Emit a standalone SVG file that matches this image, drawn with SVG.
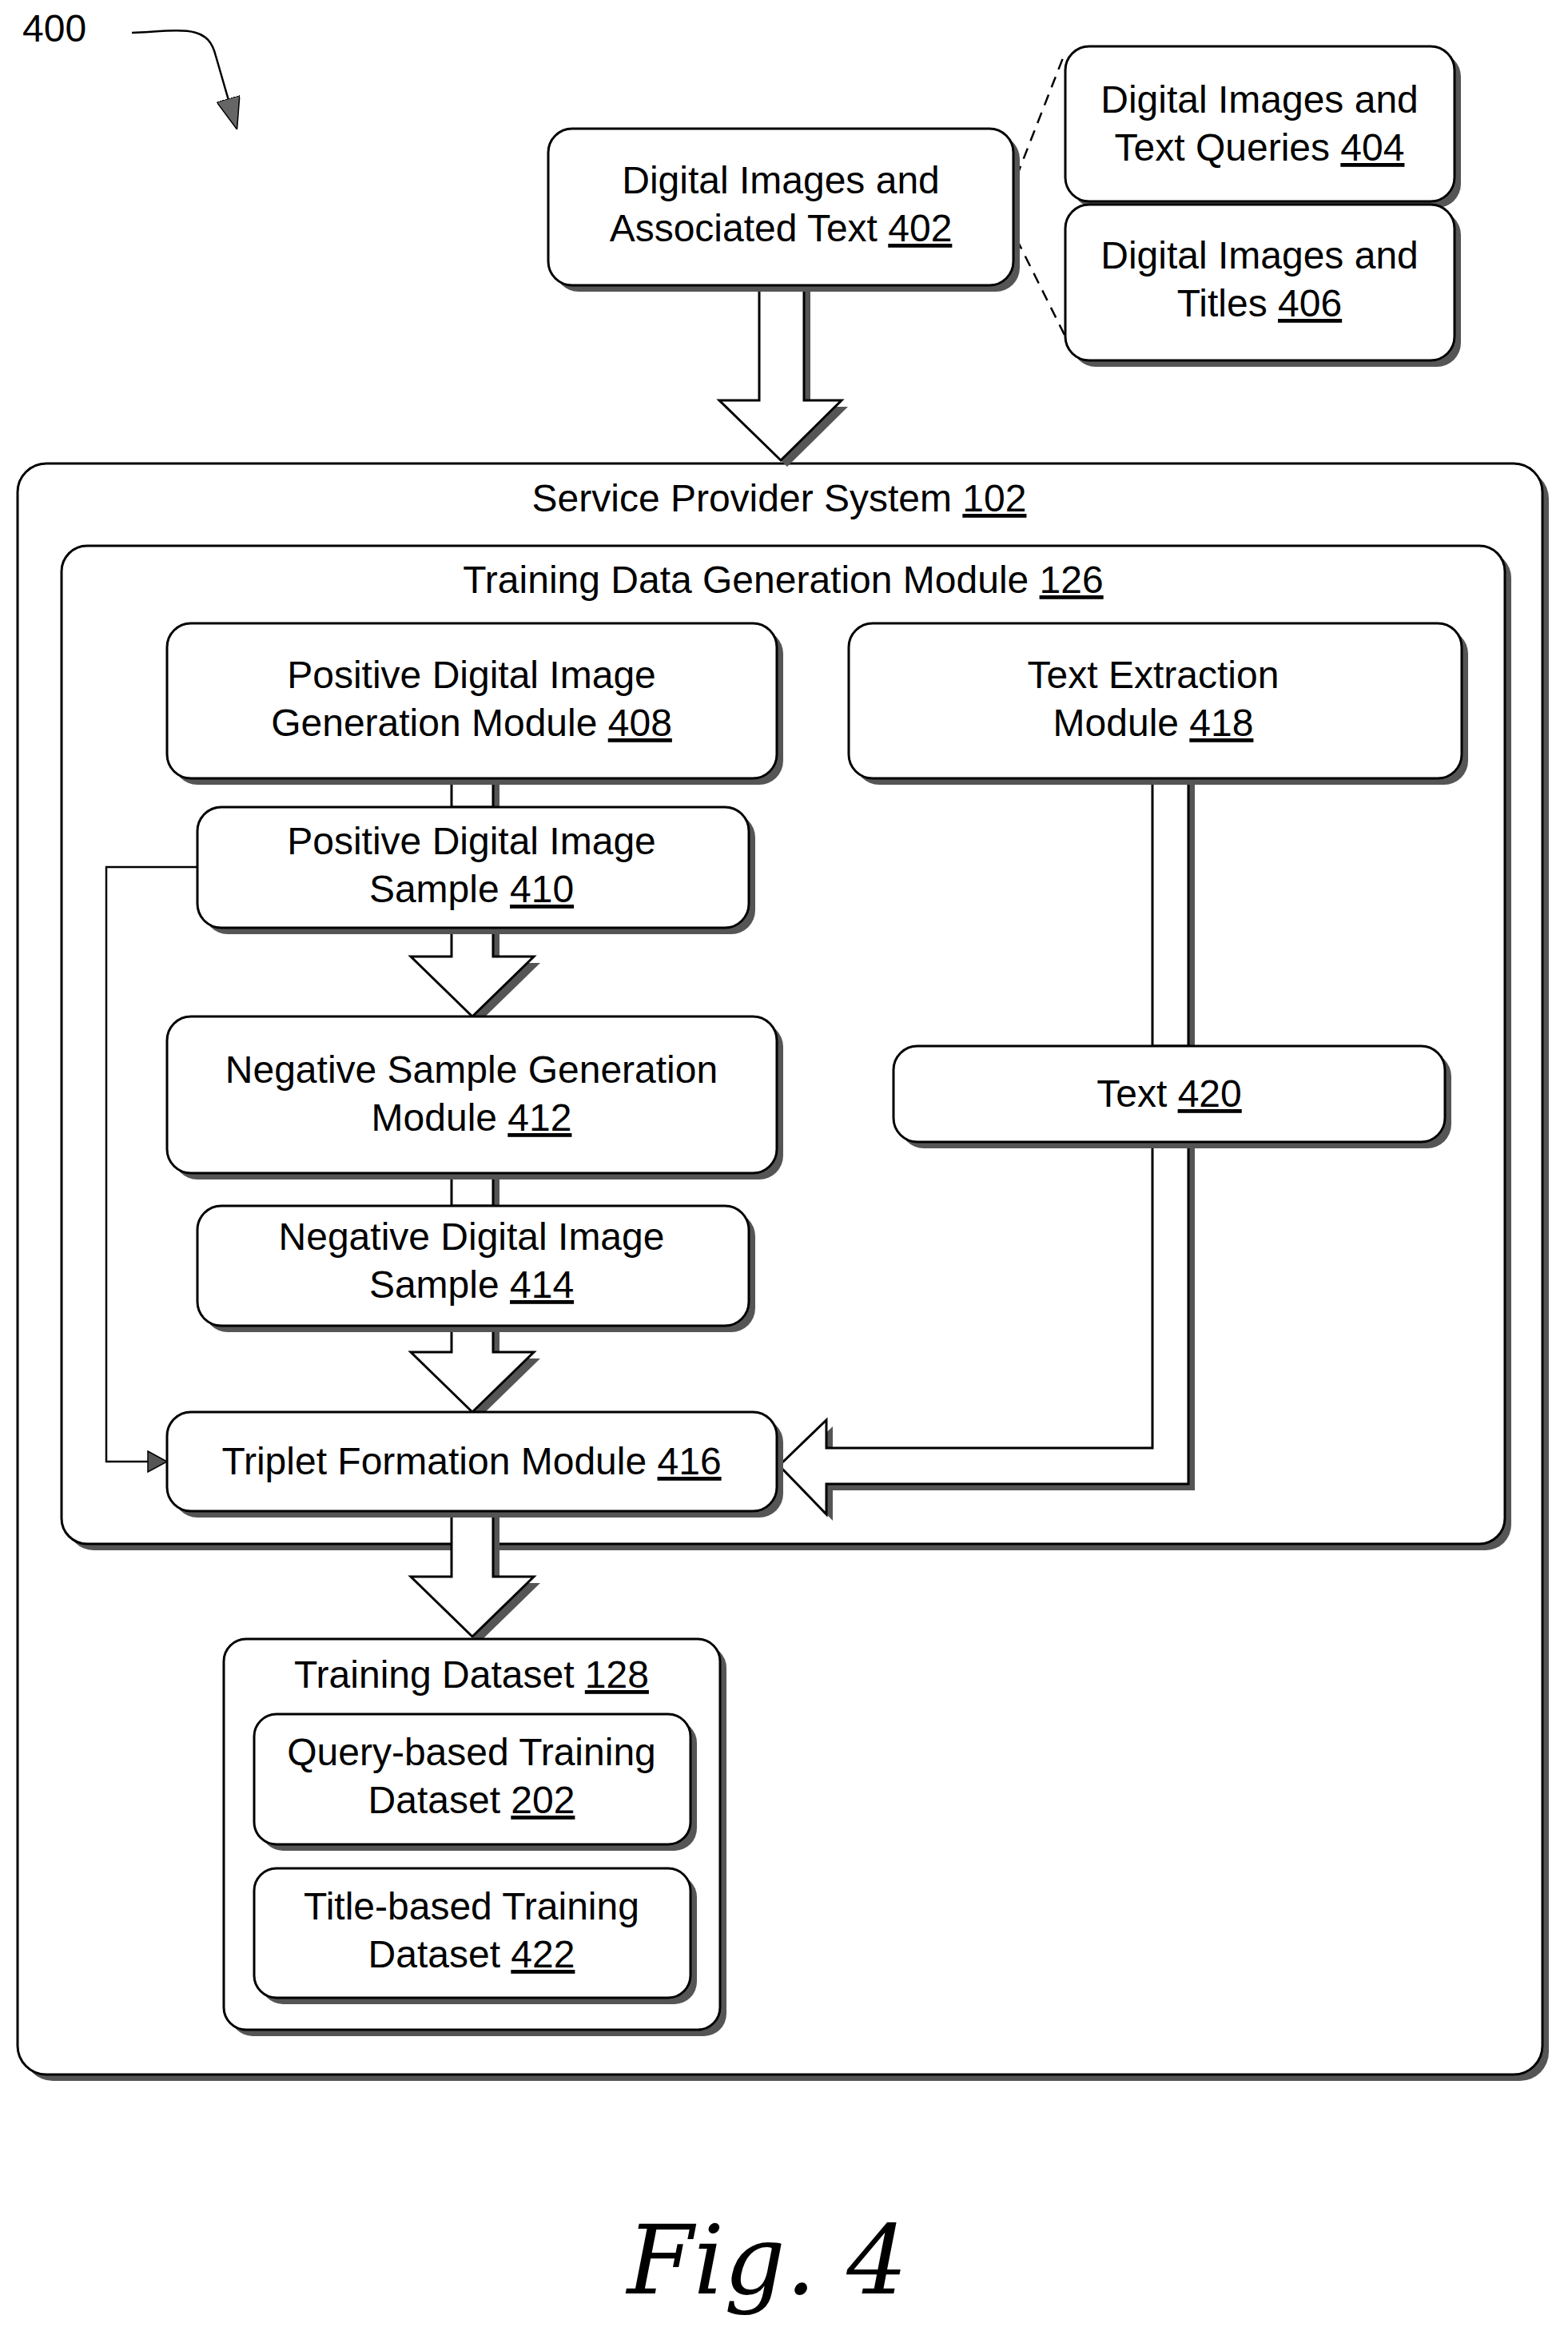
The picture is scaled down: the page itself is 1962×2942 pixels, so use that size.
<svg xmlns="http://www.w3.org/2000/svg" width="1962" height="2942" viewBox="0 0 1962 2942">
<style>
.b{fill:#fff;stroke:#000;stroke-width:3}
.s{fill:#555;stroke:none}
.t{font-family:"Liberation Sans",Arial,sans-serif;font-size:48px;text-anchor:middle;fill:#000}
.u{text-decoration:underline}
.l{fill:none;stroke:#000;stroke-width:2.5}
</style>
<defs>
<marker id="ah2" markerWidth="40" markerHeight="30" refX="38" refY="15" orient="auto" markerUnits="userSpaceOnUse"><path d="M0,0 L40,15 L0,30 Z" fill="#666" stroke="#000" stroke-width="1.5"/></marker>
</defs>
<rect width="1962" height="2942" fill="#fff"/>
<text x="28" y="52" class="t" style="text-anchor:start">400</text>
<path d="M165,41 C230,38 260,30 270,70 L296,160" class="l" marker-end="url(#ah2)"/>
<g id="sys">
<rect x="30" y="588" width="1908" height="2016" rx="36" class="s"/>
<rect x="22" y="580" width="1908" height="2016" rx="36" class="b"/>
<text x="975" y="640" class="t">Service Provider System <tspan class="u">102</tspan></text>
</g>
<g id="tdg">
<rect x="85" y="691" width="1806" height="1249" rx="32" class="s"/>
<rect x="77" y="683" width="1806" height="1249" rx="32" class="b"/>
<text x="980" y="742" class="t">Training Data Generation Module <tspan class="u">126</tspan></text>
</g>
<g id="connectors">
<path d="M1272,221 L1333,65 M1272,299 L1333,421" class="l" stroke-dasharray="14,10"/>
<polygon points="958,365 1014,365 1014,509 1061,509 985,584 908,509 958,509" class="s"/>
<polygon points="950,357 1006,357 1006,501 1053,501 977,576 900,501 950,501" class="b"/>
<rect x="573" y="982" width="52" height="36" class="s"/>
<rect x="565" y="974" width="52" height="36" class="b"/>
<polygon points="573,1169 625,1169 625,1205 676,1205 599,1280 522,1205 573,1205" class="s"/>
<polygon points="565,1161 617,1161 617,1197 668,1197 591,1272 514,1197 565,1197" class="b"/>
<rect x="573" y="1476" width="52" height="41" class="s"/>
<rect x="565" y="1468" width="52" height="41" class="b"/>
<polygon points="573,1667 625,1667 625,1700 676,1700 599,1775 522,1700 573,1700" class="s"/>
<polygon points="565,1659 617,1659 617,1692 668,1692 591,1767 514,1692 565,1692" class="b"/>
<polygon points="573,1899 625,1899 625,1981 676,1981 599,2056 522,1981 573,1981" class="s"/>
<polygon points="565,1891 617,1891 617,1973 668,1973 591,2048 514,1973 565,1973" class="b"/>
<rect x="1450" y="982" width="45" height="335" class="s"/>
<rect x="1442" y="974" width="45" height="335" class="b"/>
<polygon points="1450,1437 1495,1437 1495,1865 1042,1865 1042,1903 983,1842 1042,1785 1042,1820 1450,1820" class="s"/>
<polygon points="1442,1429 1487,1429 1487,1857 1034,1857 1034,1895 975,1834 1034,1777 1034,1812 1442,1812" class="b"/>
<path d="M247,1085 L133,1085 L133,1829 L190,1829" class="l" stroke-width="2"/>
<path d="M185,1816 L209,1829 L185,1842 Z" fill="#555" stroke="#000" stroke-width="1.5"/>
</g>
<g id="n402"><rect x="694" y="169" width="582" height="196" rx="30" class="s"/><rect x="686" y="161" width="582" height="196" rx="30" class="b"/>
<text x="977" y="242" class="t">Digital Images and</text><text x="977" y="302" class="t">Associated Text <tspan class="u">402</tspan></text></g>
<g id="n404"><rect x="1341" y="66" width="487" height="194" rx="30" class="s"/><rect x="1333" y="58" width="487" height="194" rx="30" class="b"/>
<text x="1576" y="141" class="t">Digital Images and</text><text x="1576" y="201" class="t">Text Queries <tspan class="u">404</tspan></text></g>
<g id="n406"><rect x="1341" y="264" width="487" height="195" rx="30" class="s"/><rect x="1333" y="256" width="487" height="195" rx="30" class="b"/>
<text x="1576" y="336" class="t">Digital Images and</text><text x="1576" y="396" class="t">Titles <tspan class="u">406</tspan></text></g>
<g id="n408"><rect x="217" y="788" width="763" height="194" rx="30" class="s"/><rect x="209" y="780" width="763" height="194" rx="30" class="b"/>
<text x="590" y="861" class="t">Positive Digital Image</text><text x="590" y="921" class="t">Generation Module <tspan class="u">408</tspan></text></g>
<g id="n418"><rect x="1070" y="788" width="767" height="194" rx="30" class="s"/><rect x="1062" y="780" width="767" height="194" rx="30" class="b"/>
<text x="1443" y="861" class="t">Text Extraction</text><text x="1443" y="921" class="t">Module <tspan class="u">418</tspan></text></g>
<g id="n410"><rect x="255" y="1018" width="690" height="151" rx="30" class="s"/><rect x="247" y="1010" width="690" height="151" rx="30" class="b"/>
<text x="590" y="1069" class="t">Positive Digital Image</text><text x="590" y="1129" class="t">Sample <tspan class="u">410</tspan></text></g>
<g id="n412"><rect x="217" y="1280" width="763" height="196" rx="30" class="s"/><rect x="209" y="1272" width="763" height="196" rx="30" class="b"/>
<text x="590" y="1355" class="t">Negative Sample Generation</text><text x="590" y="1415" class="t">Module <tspan class="u">412</tspan></text></g>
<g id="n414"><rect x="255" y="1517" width="690" height="150" rx="30" class="s"/><rect x="247" y="1509" width="690" height="150" rx="30" class="b"/>
<text x="590" y="1564" class="t">Negative Digital Image</text><text x="590" y="1624" class="t">Sample <tspan class="u">414</tspan></text></g>
<g id="n416"><rect x="217" y="1775" width="763" height="124" rx="30" class="s"/><rect x="209" y="1767" width="763" height="124" rx="30" class="b"/>
<text x="590" y="1845" class="t">Triplet Formation Module <tspan class="u">416</tspan></text></g>
<g id="n420"><rect x="1126" y="1317" width="690" height="120" rx="30" class="s"/><rect x="1118" y="1309" width="690" height="120" rx="30" class="b"/>
<text x="1463" y="1385" class="t">Text <tspan class="u">420</tspan></text></g>
<g id="n128"><rect x="288" y="2059" width="621" height="489" rx="28" class="s"/><rect x="280" y="2051" width="621" height="489" rx="28" class="b"/>
<text x="590" y="2112" class="t">Training Dataset <tspan class="u">128</tspan></text></g>
<g id="n202"><rect x="326" y="2153" width="546" height="163" rx="28" class="s"/><rect x="318" y="2145" width="546" height="163" rx="28" class="b"/>
<text x="590" y="2209" class="t">Query-based Training</text><text x="590" y="2269" class="t">Dataset <tspan class="u">202</tspan></text></g>
<g id="n422"><rect x="326" y="2346" width="546" height="162" rx="28" class="s"/><rect x="318" y="2338" width="546" height="162" rx="28" class="b"/>
<text x="590" y="2402" class="t">Title-based Training</text><text x="590" y="2462" class="t">Dataset <tspan class="u">422</tspan></text></g>
<text x="960" y="2870" style="font-family:'DejaVu Serif',serif;font-style:italic;font-size:120px;text-anchor:middle">Fig. 4</text>
</svg>
